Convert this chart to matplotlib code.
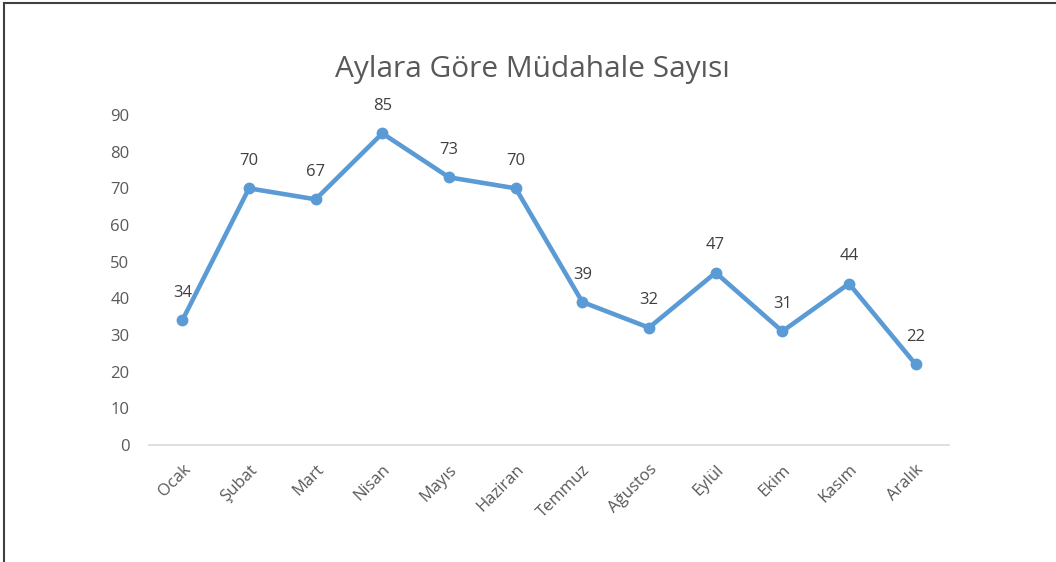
import matplotlib.pyplot as plt
from matplotlib.lines import Line2D

# Veriler
aylar = ["Ocak", "Şubat", "Mart", "Nisan", "Mayıs", "Haziran",
         "Temmuz", "Ağustos", "Eylül", "Ekim", "Kasım", "Aralık"]
mudahale = [34, 70, 67, 85, 73, 70, 39, 32, 47, 31, 44, 22]
y_ticks = [0, 10, 20, 30, 40, 50, 60, 70, 80, 90]

plt.rcParams['font.family'] = ['Open Sans', 'DejaVu Sans']
gri = "#595959"
mavi = "#5B9BD5"

fig = plt.figure(figsize=(10.56, 5.62), dpi=100)
ax = fig.add_axes([149 / 1056, 1 - 445 / 562, 800 / 1056, 330 / 562])

x = range(len(aylar))
ax.plot(x, mudahale, color=mavi, linewidth=3.3, marker="o", markersize=7.5,
        solid_joinstyle="round", zorder=3)
for xi, yi in zip(x, mudahale):
    ax.annotate(str(yi), (xi, yi), xytext=(0, 14), textcoords="offset points",
                ha="center", va="bottom", fontsize=12, color="#404040")

ax.set_xlim(-0.5, len(aylar) - 0.5)
ax.set_ylim(0, 90)
ax.set_yticks(y_ticks)
ax.set_xticks(list(x))
ax.set_xticklabels(aylar, rotation=45, ha="right", rotation_mode="anchor")
ax.tick_params(axis="both", length=0, colors=gri, labelsize=12)
ax.tick_params(axis="y", pad=14)
ax.tick_params(axis="x", pad=12)

for s in ["top", "right", "left"]:
    ax.spines[s].set_visible(False)
ax.spines["bottom"].set_color("#D9D9D9")
ax.spines["bottom"].set_linewidth(1.2)

fig.text(532 / 1056, 1 - 70 / 562, "Aylara Göre Müdahale Sayısı",
         ha="center", va="center", fontsize=21.5, color=gri)

# Çerçeve
fig.add_artist(Line2D([0.0035, 0.0035], [0, 0.994], transform=fig.transFigure,
                      color="#404040", linewidth=1.5))
fig.add_artist(Line2D([0.0035, 1], [0.994, 0.994], transform=fig.transFigure,
                      color="#404040", linewidth=1.5))

fig.savefig("out.png", dpi=100)
